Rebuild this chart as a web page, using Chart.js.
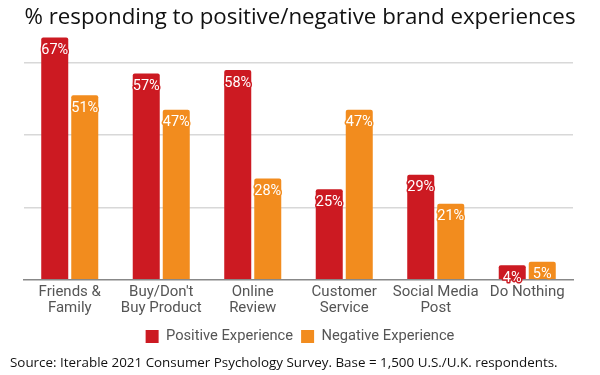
<!DOCTYPE html>
<html>
<head>
<meta charset="utf-8">
<script src="https://cdn.jsdelivr.net/npm/chart.js@4"></script>
<style>
  html, body { margin: 0; padding: 0; background: #fff; }
  #wrap { width: 600px; height: 375px; position: relative; }
</style>
</head>
<body>
<div id="wrap"><canvas id="brandChart"></canvas></div>
<script>
const categories = [
  ["Friends &", "Family"],
  ["Buy/Don't", "Buy Product"],
  ["Online", "Review"],
  ["Customer", "Service"],
  ["Social Media", "Post"],
  "Do Nothing"
];
const positive = [67, 57, 58, 25, 29, 4];
const negative = [51, 47, 28, 47, 21, 5];

const RED = "#cc1a22";
const ORANGE = "#f28c1e";

// white % labels near the top of each bar
const barLabels = {
  id: "barLabels",
  afterDatasetsDraw(chart) {
    const ctx = chart.ctx;
    ctx.save();
    ctx.font = "14.5px Roboto";
    ctx.textAlign = "center";
    ctx.textBaseline = "middle";
    chart.data.datasets.forEach((ds, i) => {
      chart.getDatasetMeta(i).data.forEach((bar, j) => {
        const txt = ds.data[j] + "%";
        const y = bar.y + 13;
        ctx.lineWidth = 3;
        ctx.lineJoin = "round";
        ctx.strokeStyle = ds.backgroundColor;
        ctx.strokeText(txt, bar.x, y);
        ctx.fillStyle = "#fff";
        ctx.fillText(txt, bar.x, y);
      });
    });
    ctx.restore();
  }
};

new Chart(document.getElementById("brandChart").getContext("2d"), {
  type: "bar",
  data: {
    labels: categories,
    datasets: [
      {
        label: "Positive Experience",
        data: positive,
        backgroundColor: RED,
        borderRadius: 2,
        barPercentage: 0.9,
        categoryPercentage: 0.656
      },
      {
        label: "Negative Experience",
        data: negative,
        backgroundColor: ORANGE,
        borderRadius: 2,
        barPercentage: 0.9,
        categoryPercentage: 0.656
      }
    ]
  },
  options: {
    responsive: true,
    maintainAspectRatio: false,
    animation: false,
    layout: { padding: { left: 10, right: 10, top: 0, bottom: 2 } },
    plugins: {
      title: {
        display: true,
        text: "% responding to positive/negative brand experiences",
        color: "#111",
        font: { family: "'Open Sans'", size: 22.3, weight: "normal" },
        padding: { top: 4, bottom: 3 }
      },
      subtitle: {
        display: true,
        position: "bottom",
        align: "start",
        text: "Source: Iterable 2021 Consumer Psychology Survey. Base = 1,500 U.S./U.K. respondents.",
        color: "#111",
        font: { family: "'Open Sans'", size: 13.4 },
        padding: { top: 1, bottom: 2 }
      },
      legend: {
        position: "bottom",
        labels: {
          color: "#555",
          font: { family: "Roboto", size: 14.7 },
          boxWidth: 13,
          boxHeight: 13,
          padding: 8
        }
      },
      tooltip: { enabled: false }
    },
    scales: {
      x: {
        grid: { display: false, drawTicks: false },
        border: { color: "#888", width: 1.5 },
        ticks: {
          color: "#555",
          font: { family: "Roboto", size: 15, lineHeight: 1.05 },
          padding: 5,
          maxRotation: 0,
          autoSkip: false
        }
      },
      y: {
        min: 0,
        max: 68,
        afterFit: (scale) => { scale.width = 14; },
        ticks: { display: false, stepSize: 20 },
        border: { display: false },
        grid: {
          color: (c) => (c.tick && c.tick.value % 20 === 0 && c.tick.value > 0 ? "#d8d8d8" : "rgba(0,0,0,0)"),
          lineWidth: 1.5,
          drawTicks: false
        }
      },
      // empty right-hand axis, only to keep the plot inset on the right
      yRight: {
        position: "right",
        afterFit: (scale) => { scale.width = 17; },
        ticks: { display: false },
        border: { display: false },
        grid: { display: false }
      }
    }
  },
  plugins: [barLabels]
});
</script>
</body>
</html>
